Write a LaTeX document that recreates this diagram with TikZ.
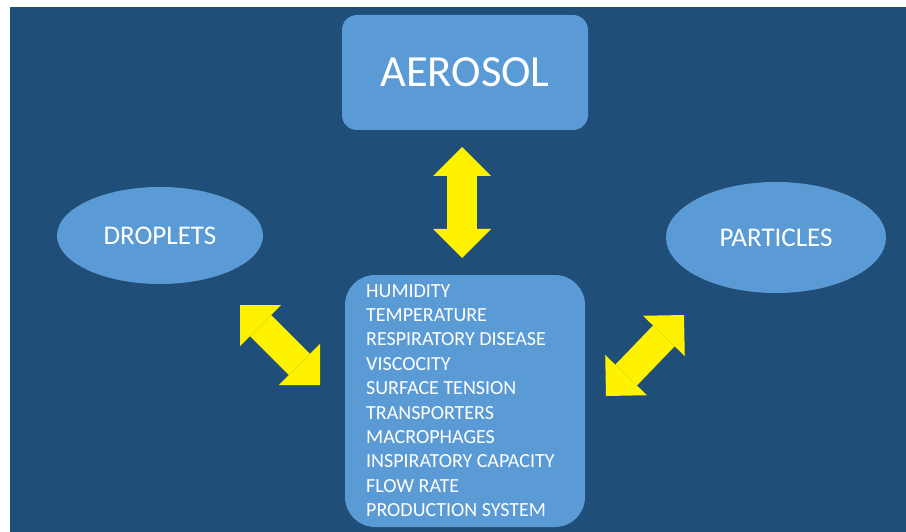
\documentclass[tikz,border=0pt]{standalone}
\usepackage{fontspec}
\setmainfont{Carlito}
\usetikzlibrary{arrows.meta,shapes.geometric}
\definecolor{bgblue}{RGB}{31,78,121}
\definecolor{boxblue}{RGB}{91,155,213}
\tikzset{
  boxfill/.style={fill=boxblue,draw=none,text=white},
  yarrow/.style={draw=yellow,line width=30pt,
    {Triangle[length=29pt,width=58pt,line width=0pt]}-{Triangle[length=29pt,width=58pt,line width=0pt]}},
}
\begin{document}
\begin{tikzpicture}[x=1pt,y=-1pt]
\useasboundingbox (0,0) rectangle (906,532);
\fill[white] (0,0) rectangle (906,532);
\fill[bgblue] (10,7) rectangle (906,532);
% nodes
\node[boxfill,rectangle,rounded corners=15pt,minimum width=246pt,minimum height=115pt,
      font=\fontsize{44.5}{50}\selectfont] (aerosol) at (465,72.5) {AEROSOL};
\node[boxfill,ellipse,minimum width=206pt,minimum height=97pt,inner sep=0pt,
      font=\fontsize{27}{30}\selectfont] (droplets) at (160,235.5) {DROPLETS};
\node[boxfill,ellipse,minimum width=220pt,minimum height=111pt,inner sep=0pt,
      font=\fontsize{27}{30}\selectfont] (particles) at (776,237.5) {PARTICLES};
\node[boxfill,rectangle,rounded corners=30pt,minimum width=240pt,minimum height=252pt] (factors) at (465,401) {};
\node[text=white,anchor=north west,inner sep=0pt,align=left,
      font=\fontsize{20}{24.4}\selectfont] (list) at (366,284.1)
  {HUMIDITY\\TEMPERATURE\\RESPIRATORY DISEASE\\VISCOCITY\\SURFACE TENSION\\TRANSPORTERS\\MACROPHAGES\\INSPIRATORY CAPACITY\\FLOW RATE\\PRODUCTION SYSTEM};
% arrow ends
\coordinate (v1) at (462,147);
\coordinate (v2) at (462,258);
\coordinate (l1) at (240,305);
\coordinate (l2) at (320,385);
\coordinate (r1) at (684,315);
\coordinate (r2) at (606,396);
\draw[yarrow] (v1) -- (v2);
\draw[yarrow] (l1) -- (l2);
\draw[yarrow] (r1) -- (r2);
\end{tikzpicture}
\end{document}
